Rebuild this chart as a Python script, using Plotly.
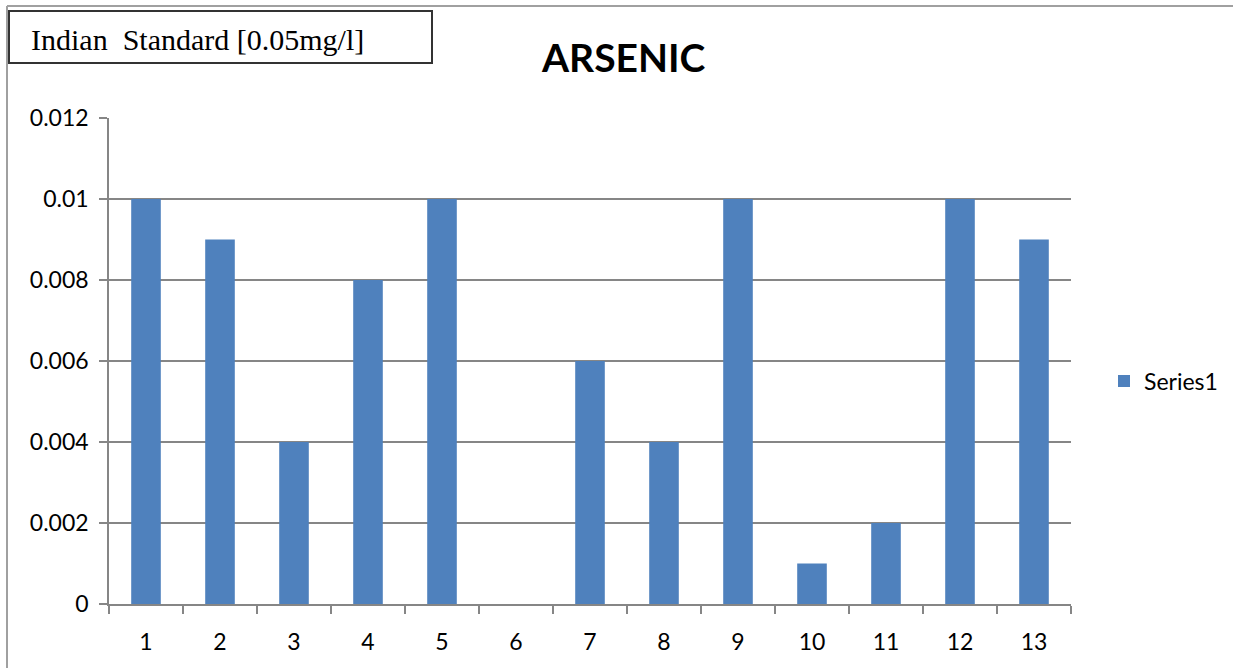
import plotly.graph_objects as go

categories = [str(i) for i in range(1, 14)]
arsenic = [0.01, 0.009, 0.004, 0.008, 0.01, 0, 0.006, 0.004, 0.01, 0.001, 0.002, 0.01, 0.009]
y_tick_vals = [0, 0.002, 0.004, 0.006, 0.008, 0.01, 0.012]
y_tick_text = ["0", "0.002", "0.004", "0.006", "0.008", "0.01", "0.012"]

W, H = 1233, 668
L, R, T, B = 109, 1071, 118, 604  # plot area in pixels

def px(x):
    return (x - L) / (R - L)

def py(y):
    return (B - y) / (B - T)

fig = go.Figure(
    go.Bar(
        x=categories,
        y=arsenic,
        name="Series1",
        marker=dict(color="#4F81BD", line=dict(width=0)),
        showlegend=True,
    )
)

axis_grey = "#868686"
tick_font = dict(family="Lato, Open Sans, sans-serif", size=23, color="#000000")

fig.update_layout(
    width=W,
    height=H,
    margin=dict(l=L, r=W - R, t=T, b=H - B, pad=0, autoexpand=False),
    paper_bgcolor="white",
    plot_bgcolor="white",
    bargap=0.6,
    showlegend=True,
    legend=dict(
        x=px(1104), y=py(381), xanchor="left", yanchor="middle",
        font=dict(family="Lato, Open Sans, sans-serif", size=23, color="#000000"),
        itemwidth=30,
    ),
    xaxis=dict(
        type="category",
        showline=True, linecolor=axis_grey, linewidth=1.5,
        ticks="outside", tickson="boundaries", ticklen=8, tickcolor=axis_grey, tickwidth=1.5,
        showgrid=False, tickfont=tick_font, ticklabelstandoff=17,
    ),
    yaxis=dict(
        range=[0, 0.012],
        tickvals=y_tick_vals, ticktext=y_tick_text,
        showline=True, linecolor=axis_grey, linewidth=1.5,
        ticks="outside", ticklen=8, tickcolor=axis_grey, tickwidth=1.5,
        showgrid=True, gridcolor=axis_grey, gridwidth=1.5,
        zeroline=False, tickfont=tick_font, ticklabelstandoff=6,
    ),
)

# Chart title
fig.add_annotation(
    text="<b>ARSENIC</b>", xref="paper", yref="paper",
    x=px(623), y=py(57), xanchor="center", yanchor="middle",
    showarrow=False,
    font=dict(family="Lato, Open Sans, sans-serif", size=39, color="#000000"),
)

# Outer chart frame (top and left edges)
fig.add_shape(type="line", xref="paper", yref="paper",
              x0=px(7), x1=px(1240), y0=py(6), y1=py(6),
              line=dict(color="#A0A0A0", width=2))
fig.add_shape(type="line", xref="paper", yref="paper",
              x0=px(7), x1=px(7), y0=py(6), y1=py(680),
              line=dict(color="#A0A0A0", width=2))

# Standard text box
fig.add_shape(type="rect", xref="paper", yref="paper",
              x0=px(9), x1=px(432), y0=py(63), y1=py(11),
              line=dict(color="#333333", width=2), fillcolor="white")
fig.add_annotation(
    text="Indian  Standard [0.05mg/l]", xref="paper", yref="paper",
    x=px(29), y=py(40), xanchor="left", yanchor="middle",
    showarrow=False,
    font=dict(family="Liberation Serif, DejaVu Serif, serif", size=30, color="#000000"),
)

fig.write_html("out.html")
